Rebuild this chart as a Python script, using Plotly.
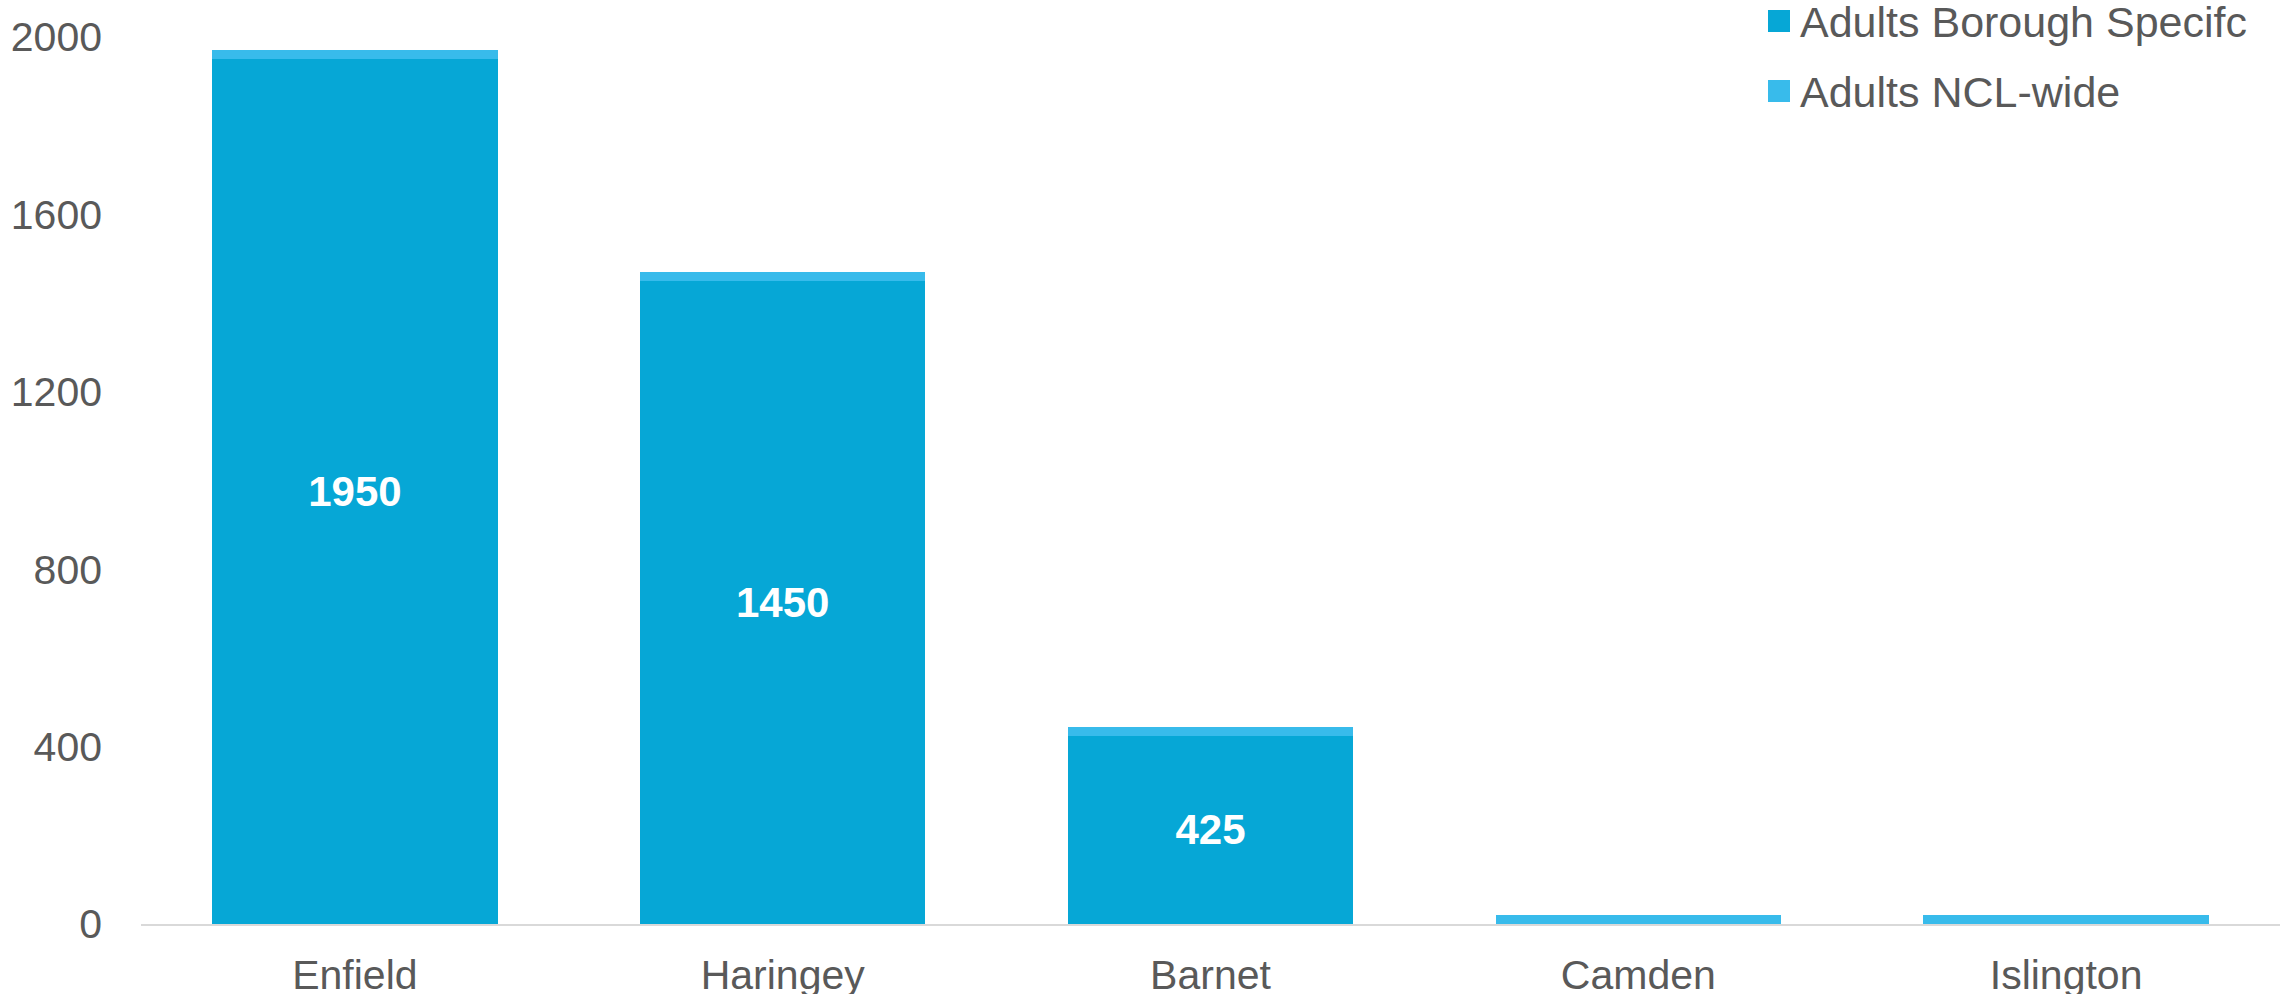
import plotly.graph_objects as go

categories = ["Enfield", "Haringey", "Barnet", "Camden", "Islington"]
borough_specific = [1950, 1450, 425, 0, 0]
ncl_wide = [20, 20, 20, 20, 20]
y_ticks = [0, 400, 800, 1200, 1600, 2000]

series_names = ["Adults Borough Specifc", "Adults NCL-wide"]
colors = ["#06A7D6", "#38BBEB"]
FONT = "Liberation Sans, Arial, sans-serif"
GREY = "#595959"

# layout geometry (pixels)
W, H = 2280, 994
ML, MR, MT, MB = 141, 0, 0, 70
PW, PH = W - ML - MR, H - MT - MB


def px_x(px):
    return (px - ML) / PW


def px_y(py):
    return 1 - (py - MT) / PH


fig = go.Figure()
fig.add_trace(go.Bar(
    x=categories, y=borough_specific, name=series_names[0],
    marker=dict(color=colors[0], line=dict(width=0)),
    text=[str(v) if v > 0 else "" for v in borough_specific],
    textposition="inside", insidetextanchor="middle", textangle=0,
    textfont=dict(family=FONT, size=42, color="white", weight="bold"),
    showlegend=False, hoverinfo="skip",
))
fig.add_trace(go.Bar(
    x=categories, y=ncl_wide, name=series_names[1],
    marker=dict(color=colors[1], line=dict(width=0)),
    showlegend=False, hoverinfo="skip",
))

# custom legend (large square swatches)
legend_rows = [21, 91]  # pixel centres of legend rows
for nm, c, cy in zip(series_names, colors, legend_rows):
    fig.add_shape(
        type="rect", xref="paper", yref="paper",
        x0=px_x(1768), x1=px_x(1790), y0=px_y(cy + 11), y1=px_y(cy - 11),
        fillcolor=c, line=dict(width=0),
    )
    fig.add_annotation(
        xref="paper", yref="paper", x=px_x(1798), y=px_y(cy + 1),
        xanchor="left", yanchor="middle", showarrow=False, text=nm,
        font=dict(family=FONT, size=43, color=GREY),
    )

fig.update_layout(
    width=W, height=H, showlegend=False,
    barmode="stack", bargap=0.333,
    plot_bgcolor="white", paper_bgcolor="white",
    margin=dict(l=ML, r=MR, t=MT, b=MB, autoexpand=False),
    font=dict(family=FONT, size=41, color=GREY),
    xaxis=dict(
        showline=True, linecolor="#d9d9d9", linewidth=2,
        showgrid=False, ticks="", ticklabelstandoff=14,
        tickfont=dict(family=FONT, size=41, color=GREY),
    ),
    yaxis=dict(
        range=[0, 2083.4], tickvals=y_ticks,
        showgrid=False, zeroline=False, showline=False, ticks="",
        ticklabelstandoff=38,
        tickfont=dict(family=FONT, size=41, color=GREY),
    ),
)

fig.write_html("out.html")
